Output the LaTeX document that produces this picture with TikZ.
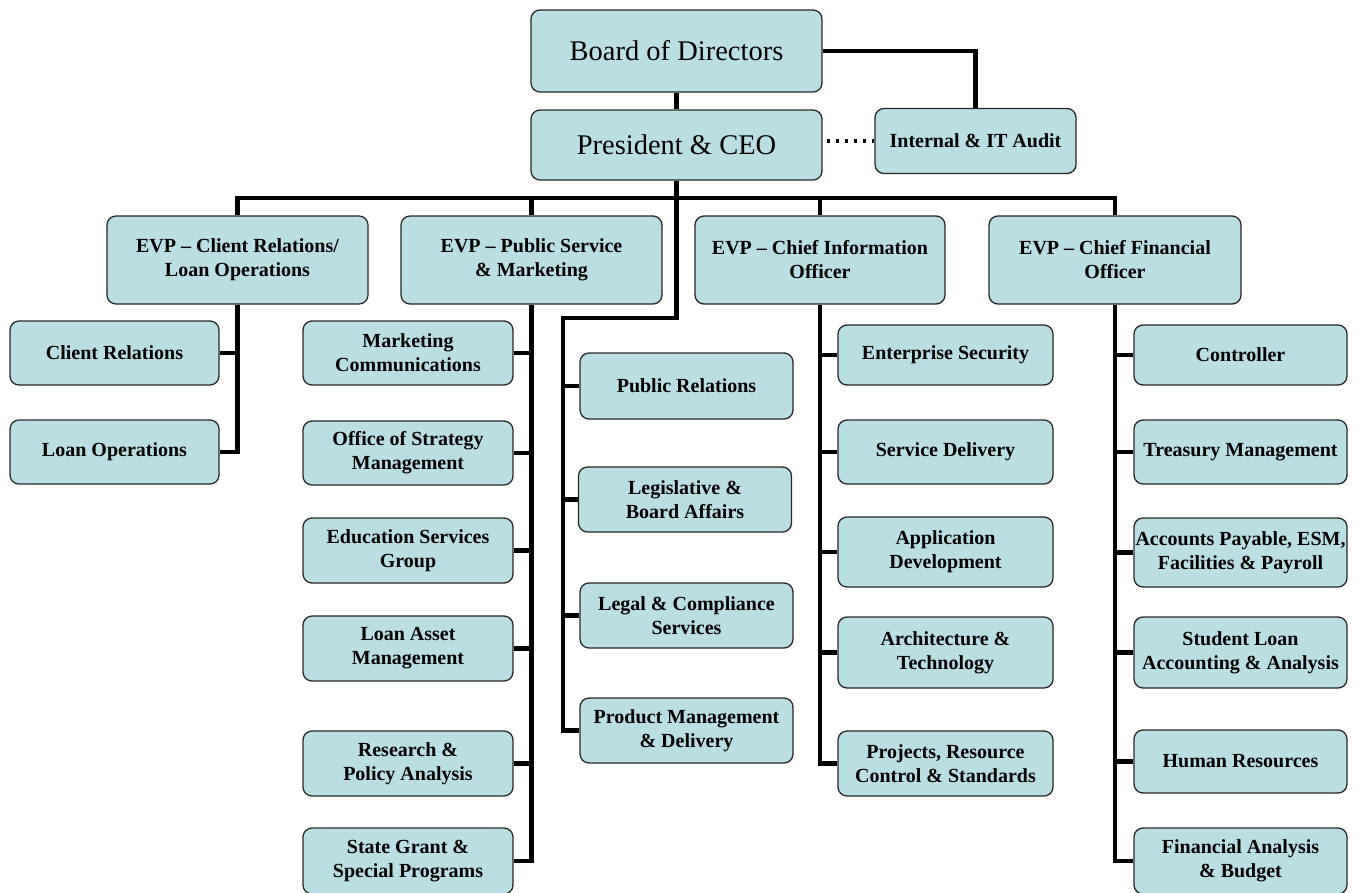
\documentclass[tikz,border=0pt]{standalone}
\usepackage{fontspec}
\setmainfont{Liberation Serif}
\definecolor{boxblue}{RGB}{186,223,227}
\definecolor{boxedge}{RGB}{40,40,40}
\begin{document}
\begin{tikzpicture}[x=1pt,y=-1pt,
  box/.style={rectangle, rounded corners=9pt, draw=boxedge, line width=1.3pt, fill=boxblue,
    inner sep=0pt, align=center, font=\fontsize{20}{24}\selectfont\bfseries},
  topbox/.style={box, font=\fontsize{28.5}{31}\selectfont},
  conn/.style={line width=4.5pt, line join=miter, draw=black},
  dotline/.style={line width=3.5pt, dash pattern=on 3.5pt off 5.5pt, draw=black}]
\useasboundingbox (0,0) rectangle (1359,892);
\fill[white] (0,0) rectangle (1359,892);

% top level
\node[topbox, minimum width=291pt, minimum height=82pt] (bod) at (676.5,51) {Board of Directors};
\node[topbox, minimum width=291pt, minimum height=70pt] (ceo) at (676.5,145) {President \& CEO};
\node[box, minimum width=201pt, minimum height=65pt] (audit) at (975.5,141) {Internal \& IT Audit};

% EVPs
\node[box, minimum width=261pt, minimum height=88pt] (evp1) at (237.5,260) {EVP -- Client Relations/\\Loan Operations};
\node[box, minimum width=261pt, minimum height=88pt] (evp2) at (531.5,260) {EVP -- Public Service\\\& Marketing};
\node[box, minimum width=250pt, minimum height=88pt] (evp3) at (820,260) {EVP -- Chief Information\\Officer};
\node[box, minimum width=252pt, minimum height=88pt] (evp4) at (1115,260) {EVP -- Chief Financial\\Officer};

% EVP1 children
\node[box, minimum width=209pt, minimum height=64pt] (cr) at (114.5,353) {Client Relations};
\node[box, minimum width=209pt, minimum height=64pt] (lo) at (114.5,452) {Loan Operations};

% EVP2 children
\node[box, minimum width=210pt, minimum height=64pt] (mc) at (408,353) {Marketing\\Communications};
\node[box, minimum width=210pt, minimum height=64pt] (osm) at (408,453) {Office of Strategy\\Management};
\node[box, minimum width=210pt, minimum height=65pt] (esg) at (408,550.5) {Education Services\\Group};
\node[box, minimum width=210pt, minimum height=65pt] (lam) at (408,648.5) {Loan Asset\\Management};
\node[box, minimum width=210pt, minimum height=65pt] (rpa) at (408,763.5) {Research \&\\Policy Analysis};
\node[box, minimum width=210pt, minimum height=66pt] (sgsp) at (408,861) {State Grant \&\\Special Programs};

% CEO direct (middle column)
\node[box, minimum width=213pt, minimum height=66pt] (pr) at (686.5,386) {Public Relations};
\node[box, minimum width=213pt, minimum height=65pt] (lba) at (685,499.5) {Legislative \&\\Board Affairs};
\node[box, minimum width=213pt, minimum height=65pt] (lcs) at (686.5,615.5) {Legal \& Compliance\\Services};
\node[box, minimum width=213pt, minimum height=65pt] (pmd) at (686.5,730.5) {Product Management\\\& Delivery};

% EVP3 children
\node[box, minimum width=215pt, minimum height=60pt] (es) at (945.5,355) {Enterprise Security};
\node[box, minimum width=215pt, minimum height=64pt] (sd) at (945.5,452) {Service Delivery};
\node[box, minimum width=215pt, minimum height=70pt] (ad) at (945.5,552) {Application\\Development};
\node[box, minimum width=215pt, minimum height=71pt] (at) at (945.5,652.5) {Architecture \&\\Technology};
\node[box, minimum width=215pt, minimum height=65pt] (prcs) at (945.5,763.5) {Projects, Resource\\Control \& Standards};

% EVP4 children
\node[box, minimum width=213pt, minimum height=60pt] (ctrl) at (1240.5,355) {Controller};
\node[box, minimum width=213pt, minimum height=64pt] (tm) at (1240.5,452) {Treasury Management};
\node[box, minimum width=213pt, minimum height=69pt] (ap) at (1240.5,552.5) {Accounts Payable, ESM,\\Facilities \& Payroll};
\node[box, minimum width=213pt, minimum height=71pt] (sla) at (1240.5,652.5) {Student Loan\\Accounting \& Analysis};
\node[box, minimum width=213pt, minimum height=63pt] (hr) at (1240.5,761.5) {Human Resources};
\node[box, minimum width=213pt, minimum height=66pt] (fab) at (1240.5,861) {Financial Analysis\\\& Budget};

% helper coordinates
\coordinate (bus) at (676.5,198);
\coordinate (pj) at (563,318);

% connectors
\draw[conn] (bod.south) -- (ceo.north);
\draw[conn] (bod.east) -| (audit.north);
\draw[dotline] (ceo.east |- audit.west) ++(4pt,0) -- (audit.west);
\draw[conn] (evp1.north) -- (evp1.north |- bus) -- (evp4.north |- bus) -- (evp4.north);
\draw[conn] (evp2.north |- bus) -- (evp2.north);
\draw[conn] (evp3.north |- bus) -- (evp3.north);
\draw[conn] (ceo.south) |- (pj) |- (pmd.west);
\draw[conn] (pj |- pr.west) -- (pr.west);
\draw[conn] (pj |- lba.west) -- (lba.west);
\draw[conn] (pj |- lcs.west) -- (lcs.west);

\draw[conn] (evp1.south) |- (lo.east);
\draw[conn] (evp1.south |- cr.east) -- (cr.east);

\draw[conn] (evp2.south) |- (sgsp.east);
\foreach \n in {mc,osm,esg,lam,rpa} \draw[conn] (evp2.south |- \n.east) -- (\n.east);

\draw[conn] (evp3.south) |- (prcs.west);
\foreach \n in {es,sd,ad,at} \draw[conn] (evp3.south |- \n.west) -- (\n.west);

\draw[conn] (evp4.south) |- (fab.west);
\foreach \n in {ctrl,tm,ap,sla,hr} \draw[conn] (evp4.south |- \n.west) -- (\n.west);
\end{tikzpicture}
\end{document}
